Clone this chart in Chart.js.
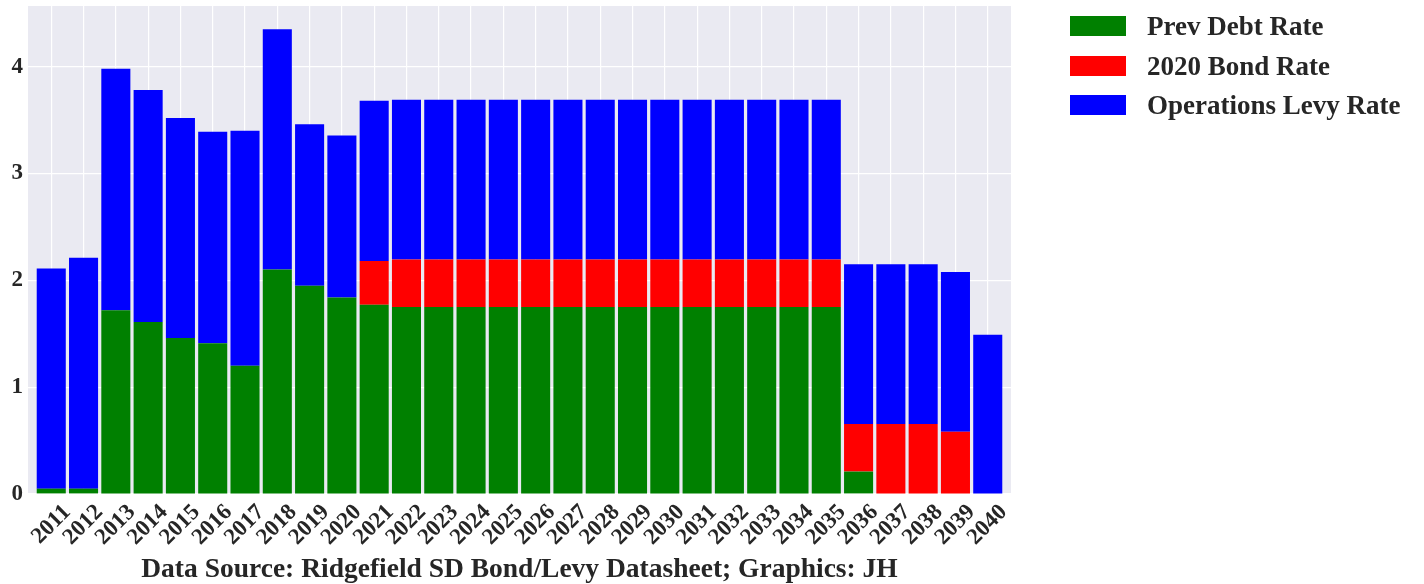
<!DOCTYPE html>
<html>
<head>
<meta charset="utf-8">
<script src="https://cdn.jsdelivr.net/npm/chart.js@4"></script>
<style>
  html, body { margin: 0; padding: 0; background: #ffffff; }
  #wrap { position: relative; width: 1424px; height: 584px; }
  #c { position: absolute; left: 0; top: 0; }
  #legend { position: absolute; left: 1070px; top: 16px; font-family: 'Liberation Serif', 'Times New Roman', serif; font-weight: bold; font-size: 27px; color: #262626; }
  .item { height: 39.5px; position: relative; }
  .sw { position: absolute; left: 0; top: 0; width: 56px; height: 20px; }
  .lb { position: absolute; left: 77px; top: -6px; line-height: 32px; white-space: nowrap; }
</style>
</head>
<body>
<div id="wrap">
  <canvas id="c" width="1424" height="584"></canvas>
  <div id="legend"></div>
</div>
<script>
const years = [2011,2012,2013,2014,2015,2016,2017,2018,2019,2020,
               2021,2022,2023,2024,2025,2026,2027,2028,2029,2030,
               2031,2032,2033,2034,2035,2036,2037,2038,2039,2040];
const prevDebtRate = [0.05,0.05,1.72,1.61,1.46,1.41,1.20,2.10,1.95,1.84,
                      1.77,1.75,1.75,1.75,1.75,1.75,1.75,1.75,1.75,1.75,
                      1.75,1.75,1.75,1.75,1.75,0.21,0,0,0,0];
const bond2020Rate = [0,0,0,0,0,0,0,0,0,0,
                      0.41,0.445,0.445,0.445,0.445,0.445,0.445,0.445,0.445,0.445,
                      0.445,0.445,0.445,0.445,0.445,0.444,0.654,0.654,0.582,0];
const opsLevyRate = [2.06,2.16,2.26,2.17,2.06,1.98,2.20,2.25,1.51,1.515,
                     1.50,1.495,1.495,1.495,1.495,1.495,1.495,1.495,1.495,1.495,
                     1.495,1.495,1.495,1.495,1.495,1.496,1.496,1.496,1.496,1.49];
const yTicks = [0,1,2,3,4];
const seriesNames = ['Prev Debt Rate','2020 Bond Rate','Operations Levy Rate'];
const seriesColors = ['#008000','#ff0000','#0000ff'];
const xAxisTitle = 'Data Source: Ridgefield SD Bond/Levy Datasheet; Graphics: JH';

const seriesValues = [prevDebtRate, bond2020Rate, opsLevyRate];
const datasets = seriesValues.map((vals, s) => ({
  label: seriesNames[s],
  data: vals.map((v, i) => ({x: i, y: v})),
  backgroundColor: seriesColors[s],
  borderWidth: 0,
  barPercentage: 0.9,
  categoryPercentage: 1.0
}));

const bgPlugin = {
  id: 'bg',
  beforeDraw(chart) {
    const {ctx, chartArea: a} = chart;
    ctx.save();
    ctx.fillStyle = '#eaeaf2';
    ctx.fillRect(a.left, a.top, a.right - a.left, a.bottom - a.top);
    ctx.restore();
  }
};

const serif = "'Liberation Serif', 'Times New Roman', serif";
const tickFont = {family: serif, weight: 'bold', size: 23};

new Chart(document.getElementById('c'), {
  type: 'bar',
  data: { datasets },
  plugins: [bgPlugin],
  options: {
    responsive: false,
    animation: false,
    layout: { padding: { left: 0, top: 6, right: 413, bottom: 0 } },
    plugins: { legend: { display: false }, tooltip: { enabled: false } },
    scales: {
      x: {
        type: 'linear',
        stacked: true,
        offset: false,
        min: -0.72,
        max: 29.72,
        grid: { color: '#ffffff', lineWidth: 1.2, drawTicks: false, offset: false },
        border: { display: false },
        afterFit(scale) { scale.height = 90; scale.paddingLeft = 0; scale.paddingRight = 0; },
        ticks: {
          stepSize: 1,
          includeBounds: false,
          autoSkip: false,
          minRotation: 45,
          maxRotation: 45,
          labelOffset: 16,
          padding: 5,
          color: '#262626',
          font: tickFont,
          callback: (v) => (Number.isInteger(v) && v >= 0 && v < years.length) ? String(years[v]) : ''
        },
        title: {
          display: true,
          text: xAxisTitle,
          color: '#262626',
          font: {family: serif, weight: 'bold', size: 27.5},
          padding: { top: 0, bottom: -2 }
        }
      },
      y: {
        stacked: true,
        min: 0,
        max: 4.567,
        grid: { color: '#ffffff', lineWidth: 1.2, drawTicks: false },
        border: { display: false },
        afterFit(scale) { scale.width = 28; scale.paddingTop = 0; scale.paddingBottom = 0; },
        ticks: {
          stepSize: 1,
          includeBounds: false,
          padding: 5,
          color: '#262626',
          font: tickFont,
          callback: (v) => yTicks.includes(v) ? String(v) : ''
        }
      }
    }
  }
});

const lg = document.getElementById('legend');
seriesNames.forEach((n, i) => {
  const d = document.createElement('div');
  d.className = 'item';
  d.innerHTML = '<div class="sw" style="background:' + seriesColors[i] + '"></div><div class="lb"></div>';
  d.querySelector('.lb').textContent = n;
  lg.appendChild(d);
});
</script>
</body>
</html>
